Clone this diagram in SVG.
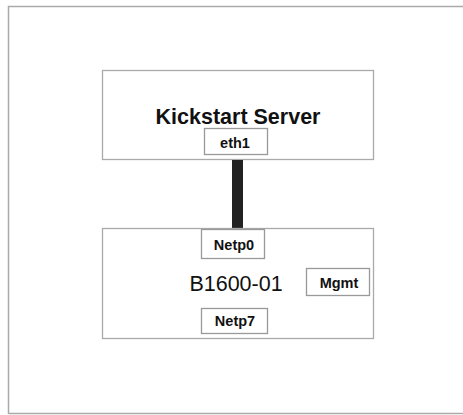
<svg xmlns="http://www.w3.org/2000/svg" width="463" height="415" viewBox="0 0 463 415">
<style>
.box{fill:#fff;stroke:#aaa;stroke-width:1.3}
.port{fill:#fff;stroke:#999;stroke-width:1.3}
.t{font-family:"Liberation Sans",Arial,sans-serif;fill:#111;text-anchor:middle}
.b{font-weight:bold}
</style>
<rect width="463" height="415" fill="#fff"/>
<path d="M8.5,414 V6.5 H463 M8.5,413.5 H463" fill="none" stroke="#aaa" stroke-width="1.5"/>
<g id="kickstart-server">
<rect class="box" x="102.5" y="70.5" width="271" height="89"/>
<text class="t b" x="238" y="124" font-size="21.5">Kickstart Server</text>
<g id="eth1">
<rect class="port" x="204.5" y="128.5" width="63" height="26"/>
<text class="t b" x="235" y="148" font-size="14.5">eth1</text>
</g>
</g>
<g id="connectors">
<rect x="232" y="160" width="11" height="68" fill="#222"/>
</g>
<g id="b1600-01">
<rect class="box" x="102.5" y="228.5" width="271" height="110"/>
<text class="t" x="236" y="291" font-size="21.5">B1600-01</text>
<g id="netp0">
<rect class="port" x="201.5" y="229.5" width="63" height="29"/>
<text class="t b" x="234" y="250" font-size="14.5">Netp0</text>
</g>
<g id="mgmt">
<rect class="port" x="306.5" y="268.5" width="63" height="27"/>
<text class="t b" x="339" y="288" font-size="14.5">Mgmt</text>
</g>
<g id="netp7">
<rect class="port" x="201.5" y="308.5" width="66" height="25"/>
<text class="t b" x="235" y="326" font-size="14.5">Netp7</text>
</g>
</g>
</svg>
